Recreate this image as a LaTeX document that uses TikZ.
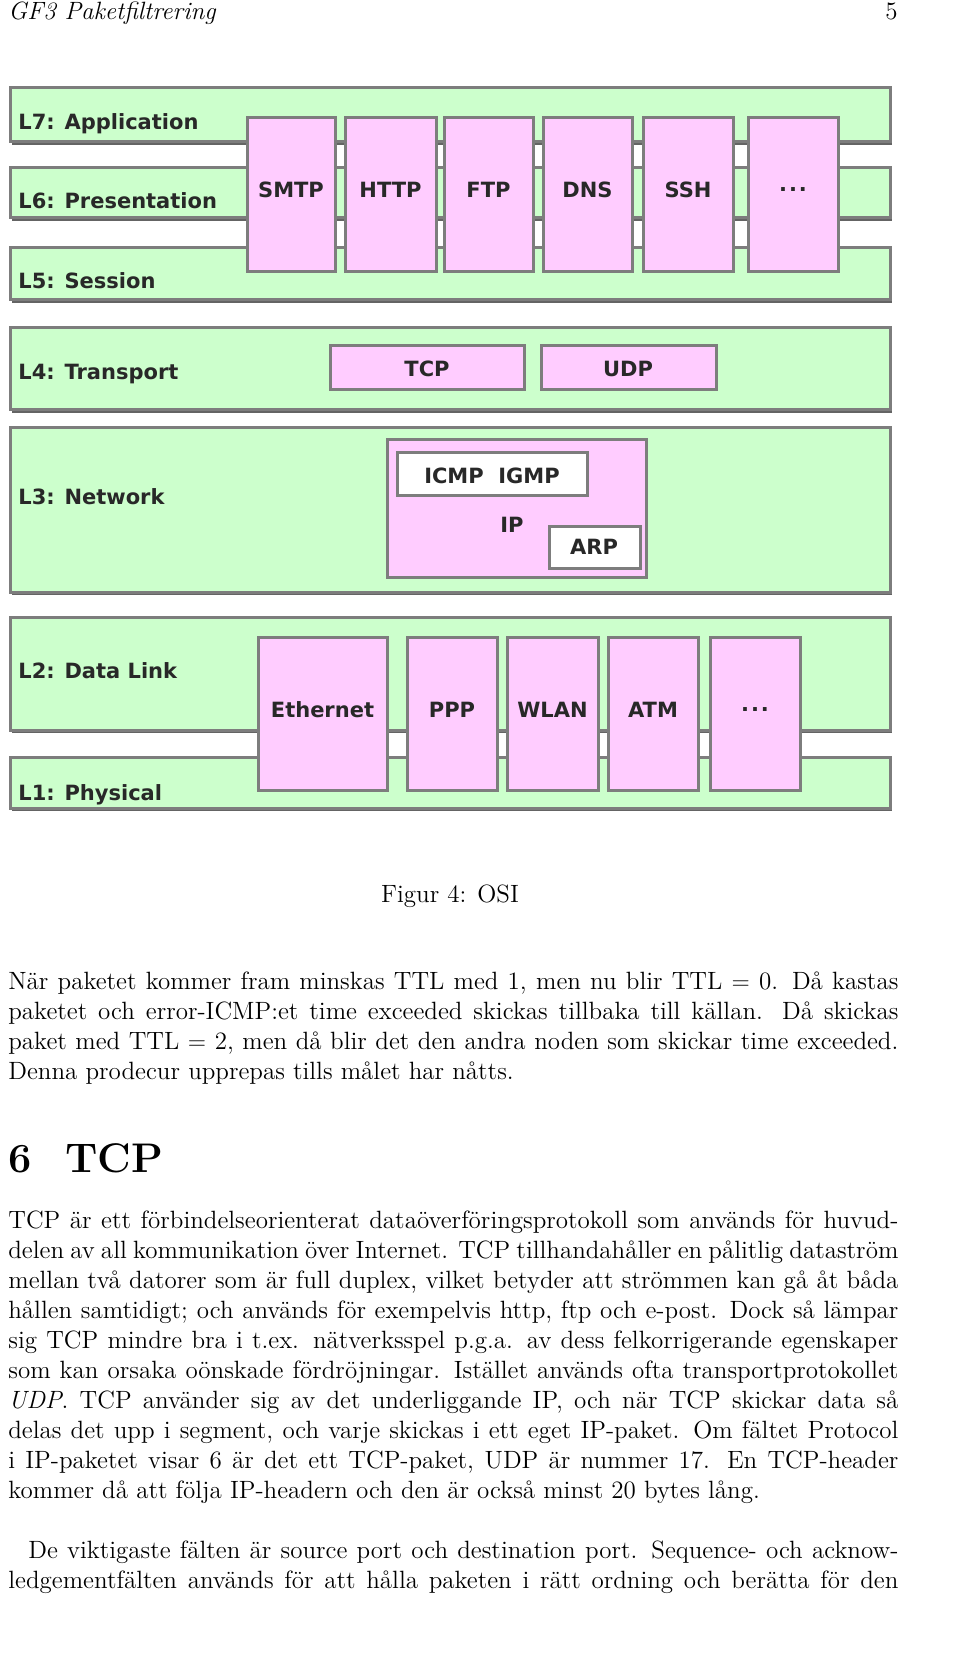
\documentclass[tikz,border=0pt]{standalone}
\usepackage{fontspec}
\newfontfamily\osifont{DejaVu Sans}
\definecolor{layergreen}{RGB}{204,255,204}
\definecolor{protopink}{RGB}{255,204,255}
\definecolor{edgegray}{RGB}{125,125,125}
\definecolor{labelgray}{RGB}{40,40,40}
\tikzset{
	layer/.style = {draw=edgegray, line width=1.5, fill=layergreen},
	proto/.style = {draw=edgegray, line width=1.5, fill=protopink},
	inbox/.style = {draw=edgegray, line width=1.5, fill=white},
	shade/.style = {fill=edgegray!80!black},
	osilabel/.style = {font=\osifont\bfseries\fontsize{10.5}{12}\selectfont, text=labelgray, inner sep=0},
	bodyline/.style = {anchor=base west, inner sep=0, font=\fontsize{12.5}{15}\selectfont}
}
\newcommand{\osidots}{.\kern1pt.\kern1pt.}
\begin{document}
\begin{tikzpicture}[x=0.5pt, y=-0.5pt]
	\useasboundingbox (0,0) rectangle (960,1673);
	% page head
	\node[bodyline] (head) at (8,20) {\itshape GF3 Paketfiltrering};
	\node[bodyline, anchor=base east] (pageno) at (898,20) {5};
	% layer bands
	\foreach \t/\b in {88/142, 168/218, 248/300, 328/410, 428/592, 617/730, 757/808}
	{
		\fill[shade] (12,\t+3) rectangle (892,\b+3);
		\draw[layer] (10,\t) rectangle (890,\b);
	}
	\node[osilabel, anchor=base west] (l7) at (18,130) {L7: Application};
	\node[osilabel, anchor=base west] (l6) at (18,209) {L6: Presentation};
	\node[osilabel, anchor=base west] (l5) at (18,289) {L5: Session};
	\node[osilabel, anchor=base west] (l4) at (18,380) {L4: Transport};
	\node[osilabel, anchor=base west] (l3) at (18,505) {L3: Network};
	\node[osilabel, anchor=base west] (l2) at (18,678) {L2: Data Link};
	\node[osilabel, anchor=base west] (l1) at (18,800) {L1: Physical};
	% application protocols
	\foreach \l/\r/\name/\txt in {247/335/smtp/SMTP, 345/436/http/HTTP, 444/533/ftp/FTP, 543/632/dns/DNS, 643/733/ssh/SSH, 748/838/more/\osidots}
	{
		\draw[proto] (\l,118) rectangle (\r,272);
		\node[osilabel] (app-\name) at ({(\l+\r)/2},190) {\txt};
	}
	% transport
	\draw[proto] (330,346) rectangle (524,390);
	\node[osilabel] (tcp) at (427,369) {TCP};
	\draw[proto] (541,346) rectangle (716,390);
	\node[osilabel] (udp) at (628,369) {UDP};
	% network
	\draw[proto] (387,440) rectangle (646,577);
	\draw[inbox] (397,453) rectangle (587,496);
	\node[osilabel] (icmp) at (492,476) {ICMP\ \ IGMP};
	\node[osilabel] (ip) at (512,525) {IP};
	\draw[inbox] (549,527) rectangle (640,568);
	\node[osilabel] (arp) at (594,547) {ARP};
	% data link
	\foreach \l/\r/\name/\txt in {258/387/eth/Ethernet, 407/497/ppp/PPP, 507/598/wlan/WLAN, 608/698/atm/ATM, 710/800/more/\osidots}
	{
		\draw[proto] (\l,637) rectangle (\r,790);
		\node[osilabel] (link-\name) at ({(\l+\r)/2},710) {\txt};
	}
	\node[bodyline, anchor=base] (caption) at (450,902) {Figur 4: OSI};
	% running text
	\foreach [count=\i] \y/\txt in {
		989/{När paketet kommer fram minskas TTL med 1, men nu blir TTL $=$ 0. Då kastas},
		1019/{paketet och error-ICMP:et time exceeded skickas tillbaka till källan. Då skickas},
		1049/{paket med TTL $=$ 2, men då blir det den andra noden som skickar time exceeded.},
		1228/{TCP är ett förbindelseorienterat dataöverföringsprotokoll som används för huvud-},
		1258/{delen av all kommunikation över Internet. TCP tillhandahåller en pålitlig dataström},
		1288/{mellan två datorer som är full duplex, vilket betyder att strömmen kan gå åt båda},
		1318/{hållen samtidigt; och används för exempelvis http, ftp och e-post. Dock så lämpar},
		1348/{sig TCP mindre bra i t.ex. nätverksspel p.g.a. av dess felkorrigerande egenskaper},
		1378/{som kan orsaka oönskade fördröjningar. Istället används ofta transportprotokollet},
		1408/{\emph{UDP}. TCP använder sig av det underliggande IP, och när TCP skickar data så},
		1438/{delas det upp i segment, och varje skickas i ett eget IP-paket. Om fältet Protocol},
		1468/{i IP-paketet visar 6 är det ett TCP-paket, UDP är nummer 17. En TCP-header},
		1588/{ledgementfälten används för att hålla paketen i rätt ordning och berätta för den}}
	{
		\node[bodyline] (line\i) at (8,\y) {\makebox[445pt][s]{\txt}};
	}
	\node[bodyline] (p1end) at (8,1079) {Denna prodecur upprepas tills målet har nåtts.};
	\node[bodyline] (p2end) at (8,1498) {kommer då att följa IP-headern och den är också minst 20 bytes lång.};
	\node[bodyline] (p3first) at (28,1558) {\makebox[435pt][s]{De viktigaste fälten är source port och destination port. Sequence- och acknow-}};
	% section heading
	\node[bodyline, font=\fontsize{20.7}{25}\selectfont\bfseries] (secno) at (8,1172) {6};
	\node[bodyline, font=\fontsize{20.7}{25}\selectfont\bfseries] (sectitle) at (65,1172) {TCP};
\end{tikzpicture}
\end{document}
